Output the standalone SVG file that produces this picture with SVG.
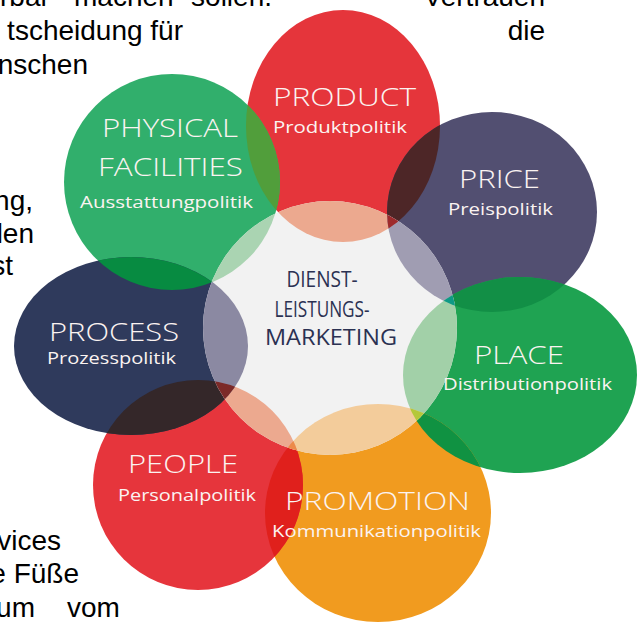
<svg xmlns="http://www.w3.org/2000/svg" xmlns:xlink="http://www.w3.org/1999/xlink" width="641" height="626" viewBox="0 0 641 626">
  <style>
    .body { font-family: "Liberation Sans", Arial, sans-serif; font-size: 28px; fill: #000; }
    .title { font-family: "Open Sans", "DejaVu Sans", sans-serif; font-weight: 300; font-size: 26px; fill: #fbf3f1; }
    .sub { font-family: "Open Sans", "DejaVu Sans", sans-serif; font-weight: 400; font-size: 17px; fill: #fbf3f1; }
    .core { font-family: "Open Sans", "DejaVu Sans", sans-serif; font-weight: 400; font-size: 22px; fill: #2b3152; text-anchor: middle; }
  </style>
  <defs>
    <ellipse id="e-product" cx="343" cy="126" rx="97" ry="116"/>
    <ellipse id="e-phys" cx="172" cy="182" rx="108" ry="108"/>
    <ellipse id="e-price" cx="492" cy="212" rx="105" ry="100"/>
    <ellipse id="e-place" cx="520" cy="375" rx="117" ry="98"/>
    <ellipse id="e-promo" cx="378" cy="513" rx="113" ry="109"/>
    <ellipse id="e-people" cx="198" cy="485" rx="105" ry="105"/>
    <ellipse id="e-process" cx="131" cy="346" rx="117" ry="89"/>
    <circle id="e-core" cx="330" cy="328" r="127"/>
    <clipPath id="c-product"><use xlink:href="#e-product"/></clipPath>
    <clipPath id="c-phys"><use xlink:href="#e-phys"/></clipPath>
    <clipPath id="c-price"><use xlink:href="#e-price"/></clipPath>
    <clipPath id="c-place"><use xlink:href="#e-place"/></clipPath>
    <clipPath id="c-promo"><use xlink:href="#e-promo"/></clipPath>
    <clipPath id="c-people"><use xlink:href="#e-people"/></clipPath>
    <clipPath id="c-process"><use xlink:href="#e-process"/></clipPath>
    <clipPath id="c-core"><use xlink:href="#e-core"/></clipPath>
  </defs>

  <!-- surrounding body copy, clipped by the page edges -->
  <g id="page-text" class="body">
    <text x="0" y="6">rbar</text>
    <text x="74" y="6">machen</text>
    <text x="272" y="6" text-anchor="end">sollen.</text>
    <text x="545" y="6" text-anchor="end">Vertrauen</text>
    <text x="183" y="40" text-anchor="end">tscheidung für</text>
    <text x="545" y="40" text-anchor="end">die</text>
    <text x="88" y="74" text-anchor="end">nschen</text>
    <text x="33" y="210" text-anchor="end">ng,</text>
    <text x="34" y="243" text-anchor="end">len</text>
    <text x="13" y="275" text-anchor="end">st</text>
    <text x="61" y="550" text-anchor="end">vices</text>
    <text x="79" y="583" text-anchor="end">e Füße</text>
    <text x="35" y="617" text-anchor="end">um</text>
    <text x="67" y="617">vom</text>
  </g>

  <!-- petals -->
  <g id="petals">
    <g id="product"><use xlink:href="#e-product" fill="#e5353b"/></g>
    <g id="physical-facilities"><use xlink:href="#e-phys" fill="#31af6c"/></g>
    <g id="price"><use xlink:href="#e-price" fill="#524f71"/></g>
    <g id="place"><use xlink:href="#e-place" fill="#1fa352"/></g>
    <g id="promotion"><use xlink:href="#e-promo" fill="#f19b1f"/></g>
    <g id="people"><use xlink:href="#e-people" fill="#e6353c"/></g>
    <g id="process"><use xlink:href="#e-process" fill="#2f3a5c"/></g>
  </g>

  <!-- overlaps between neighbouring petals -->
  <g id="overlaps">
    <use xlink:href="#e-phys" fill="#519e3b" clip-path="url(#c-product)"/>
    <use xlink:href="#e-price" fill="#4d2627" clip-path="url(#c-product)"/>
    <use xlink:href="#e-place" fill="#128f46" clip-path="url(#c-price)"/>
    <use xlink:href="#e-place" fill="#109242" clip-path="url(#c-promo)"/>
    <use xlink:href="#e-people" fill="#e0201c" clip-path="url(#c-promo)"/>
    <use xlink:href="#e-process" fill="#342729" clip-path="url(#c-people)"/>
    <use xlink:href="#e-process" fill="#078b41" clip-path="url(#c-phys)"/>
  </g>

  <!-- pale core with tinted petal overlaps -->
  <g id="core">
    <use xlink:href="#e-core" fill="#f2f2f2"/>
    <g clip-path="url(#c-core)">
      <use xlink:href="#e-product" fill="#eca98f"/>
      <use xlink:href="#e-phys" fill="#aad4b2"/>
      <use xlink:href="#e-price" fill="#a09db2"/>
      <use xlink:href="#e-place" fill="#a2d0a8"/>
      <use xlink:href="#e-promo" fill="#f3cc9b"/>
      <use xlink:href="#e-people" fill="#eca98f"/>
      <use xlink:href="#e-process" fill="#8b89a2"/>
      <use xlink:href="#e-phys" fill="#c5d23c" clip-path="url(#c-product)"/>
      <use xlink:href="#e-price" fill="#9e2b2c" clip-path="url(#c-product)"/>
      <use xlink:href="#e-place" fill="#0e9a86" clip-path="url(#c-price)"/>
      <use xlink:href="#e-place" fill="#b4c83a" clip-path="url(#c-promo)"/>
      <use xlink:href="#e-people" fill="#ec8a4a" clip-path="url(#c-promo)"/>
      <use xlink:href="#e-process" fill="#7c2a28" clip-path="url(#c-people)"/>
      <use xlink:href="#e-process" fill="#159c8c" clip-path="url(#c-phys)"/>
    </g>
    <text class="core" x="322" y="287" textLength="71" lengthAdjust="spacingAndGlyphs">DIENST-</text>
    <text class="core" x="322" y="317" textLength="95" lengthAdjust="spacingAndGlyphs">LEISTUNGS-</text>
    <text class="core" x="331" y="345" textLength="132" lengthAdjust="spacingAndGlyphs">MARKETING</text>
  </g>

  <!-- petal labels -->
  <g id="labels">
    <text class="title" x="273" y="106" textLength="143" lengthAdjust="spacingAndGlyphs">PRODUCT</text>
    <text class="sub" x="273" y="133" textLength="134" lengthAdjust="spacingAndGlyphs">Produktpolitik</text>
    <text class="title" x="102" y="137" textLength="136" lengthAdjust="spacingAndGlyphs">PHYSICAL</text>
    <text class="title" x="98" y="176" textLength="145" lengthAdjust="spacingAndGlyphs">FACILITIES</text>
    <text class="sub" x="80" y="208" textLength="173" lengthAdjust="spacingAndGlyphs">Ausstattungpolitik</text>
    <text class="title" x="459" y="188" textLength="81" lengthAdjust="spacingAndGlyphs">PRICE</text>
    <text class="sub" x="448" y="215" textLength="105" lengthAdjust="spacingAndGlyphs">Preispolitik</text>
    <text class="title" x="474" y="364" textLength="90" lengthAdjust="spacingAndGlyphs">PLACE</text>
    <text class="sub" x="443" y="390" textLength="169" lengthAdjust="spacingAndGlyphs">Distributionpolitik</text>
    <text class="title" x="49" y="341" textLength="130" lengthAdjust="spacingAndGlyphs">PROCESS</text>
    <text class="sub" x="47" y="364" textLength="129" lengthAdjust="spacingAndGlyphs">Prozesspolitik</text>
    <text class="title" x="128" y="473" textLength="110" lengthAdjust="spacingAndGlyphs">PEOPLE</text>
    <text class="sub" x="118" y="501" textLength="138" lengthAdjust="spacingAndGlyphs">Personalpolitik</text>
    <text class="title" x="285" y="510" textLength="185" lengthAdjust="spacingAndGlyphs">PROMOTION</text>
    <text class="sub" x="272" y="537" textLength="209" lengthAdjust="spacingAndGlyphs">Kommunikationpolitik</text>
  </g>
</svg>
